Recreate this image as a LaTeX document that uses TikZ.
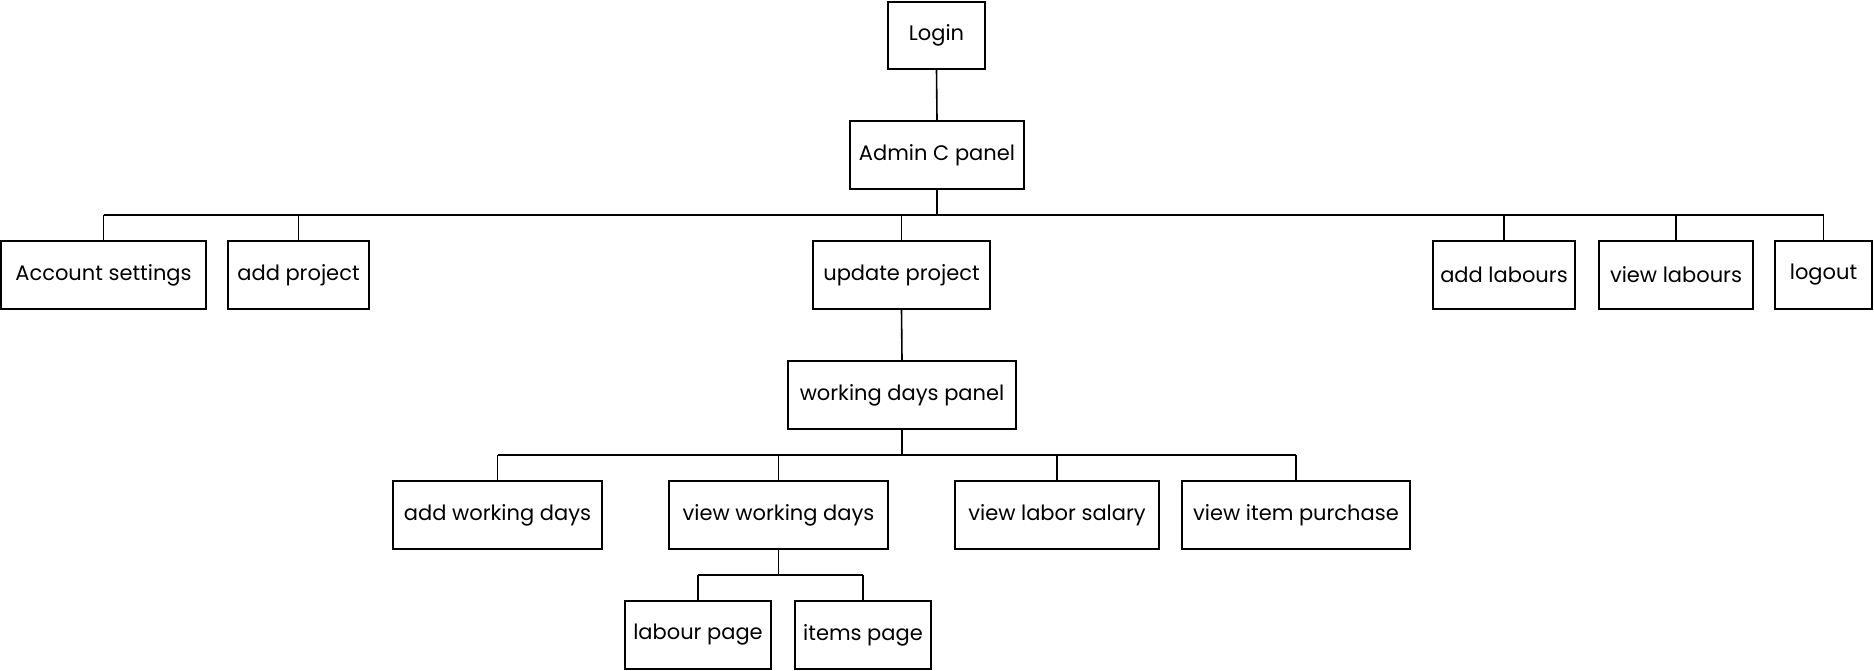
\documentclass[tikz,border=0pt]{standalone}
\usepackage{fontspec}
\setmainfont{Poppins}
\begin{document}
\begin{tikzpicture}[x=1pt,y=-1pt,
  box/.style={draw=black, line width=2pt, fill=white, inner sep=0pt, align=center, font=\fontsize{21}{24}\selectfont},
  conn/.style={draw=black, line width=1.6pt},
  bus/.style={draw=black, line width=2.4pt}]
\useasboundingbox (0,0) rectangle (1874,670);
% row 0/1
\node[box, minimum width=97pt, minimum height=67pt] (login) at (936.5,35.5) {Login};
\node[box, minimum width=174pt, minimum height=68pt] (admin) at (937,155) {Admin C panel};
% row 2
\node[box, minimum width=205pt, minimum height=68pt] (acc) at (103.5,275) {Account settings};
\node[box, minimum width=141pt, minimum height=68pt] (addp) at (298.5,275) {add project};
\node[box, minimum width=177pt, minimum height=68pt] (upd) at (901.5,275) {update project};
\node[box, minimum width=142pt, minimum height=68pt] (addl) at (1504,275) {add labours};
\node[box, minimum width=154pt, minimum height=68pt] (viewl) at (1676,275) {view labours};
\node[box, minimum width=97pt, minimum height=68pt] (logout) at (1823.5,275) {logout};
% row 3
\node[box, minimum width=228pt, minimum height=68pt] (wdp) at (902,395) {working days panel};
% row 4
\node[box, minimum width=209pt, minimum height=68pt] (awd) at (497.5,515) {add working days};
\node[box, minimum width=219pt, minimum height=68pt] (vwd) at (778.5,515) {view working days};
\node[box, minimum width=204pt, minimum height=68pt] (vls) at (1057,515) {view labor salary};
\node[box, minimum width=228pt, minimum height=68pt] (vip) at (1296,515) {view item purchase};
% row 5
\node[box, minimum width=146pt, minimum height=68pt] (lp) at (698,635) {labour page};
\node[box, minimum width=136pt, minimum height=68pt] (ip) at (863,635) {items page};
% bus coordinates
\coordinate (b1) at (0,215);
\coordinate (b2) at (0,455);
\coordinate (b3) at (0,575);
% connectors
\draw[conn] (login.south) -- (admin.north);
\draw[conn] (admin.south) -- (admin.south |- b1);
\draw[bus] (acc.north |- b1) -- (logout.north |- b1);
\foreach \n in {acc,addp,upd,addl,viewl,logout}
  \draw[conn] (\n.north) -- (\n.north |- b1);
\draw[conn] (upd.south) -- (wdp.north);
\draw[conn] (wdp.south) -- (wdp.south |- b2);
\draw[bus] (awd.north |- b2) -- (vip.north |- b2);
\foreach \n in {awd,vwd,vls,vip}
  \draw[conn] (\n.north) -- (\n.north |- b2);
\draw[conn] (vwd.south) -- (vwd.south |- b3);
\draw[bus] (lp.north |- b3) -- (ip.north |- b3);
\foreach \n in {lp,ip}
  \draw[conn] (\n.north) -- (\n.north |- b3);
\end{tikzpicture}
\end{document}
